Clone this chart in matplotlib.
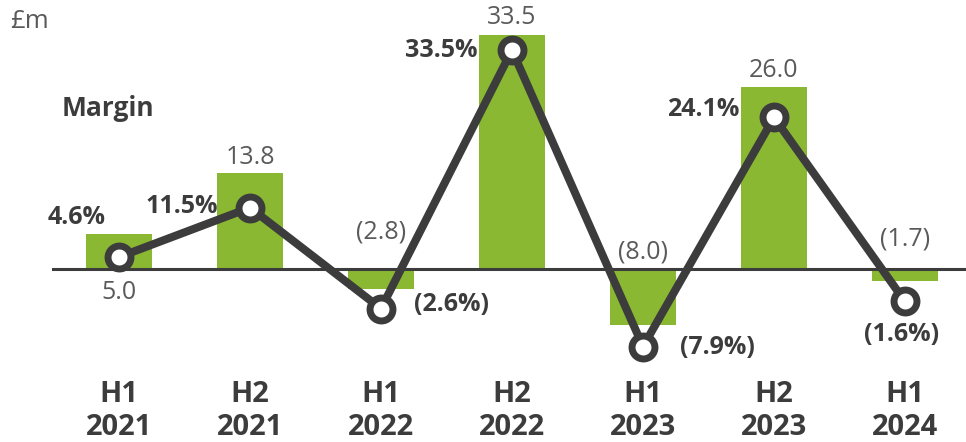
import matplotlib
matplotlib.use('Agg')
import matplotlib.pyplot as plt
import matplotlib.transforms as mtransforms

plt.rcParams['font.family'] = ['Open Sans', 'DejaVu Sans']

# half-year results, £m, and margin %
periods = ['H1\n2021', 'H2\n2021', 'H1\n2022', 'H2\n2022', 'H1\n2023', 'H2\n2023', 'H1\n2024']
profit = [5.0, 13.8, -2.8, 33.5, -8.0, 26.0, -1.7]
margin = [4.6, 11.5, -2.6, 33.5, -7.9, 24.1, -1.6]

# label placement (pixel offsets)
profit_dy = [-58, 15, 37, 18, 17, 17, 30]
margin_off = [(-13, 40, 'right'), (-32, 1, 'right'), (33, 4, 'left'), (-35, 0, 'right'),
              (37, -1, 'left'), (-35, 8, 'right'), (-3, -33, 'center')]

green = '#8ab833'
dark = '#3c3c3c'
grey = '#5a5a5a'


def fmt(v, pct=False):
    s = f'{abs(v):.1f}' + ('%' if pct else '')
    return f'({s})' if v < 0 else s


W, H = 966, 442
fig = plt.figure(figsize=(W / 100, H / 100), dpi=100)
ax = fig.add_axes([0, 0, 1, 1])
ax2 = ax.twinx()

x = list(range(len(periods)))
ax.bar(x, profit, 0.5, color=green, zorder=1)
ax.axhline(0, xmin=53 / W, xmax=1, color=dark, lw=2.2, zorder=2)

ax2.plot(x, margin, color=dark, lw=5.8, marker='o', ms=16.5, mfc='white',
         mec=dark, mew=5, solid_joinstyle='miter', zorder=3)

# pixel mapping: bars zero at y=269 (6.985 px/unit), margin zero at y=290 (7.16 px/unit)
ax.set_xlim(-119 / 131, (W - 119) / 131)
ax.set_ylim(-(H - 269) / 6.985, 269 / 6.985)
ax2.set_ylim(-(H - 290) / 7.16, 290 / 7.16)

for a in (ax, ax2):
    a.axis('off')
ax2.set_zorder(ax.get_zorder() + 1)

for i, v in enumerate(profit):
    ax.annotate(fmt(v), (i, max(v, 0)), xytext=(0, profit_dy[i]), textcoords='offset pixels',
                ha='center', va='center', fontsize=18, color=grey)

for i, v in enumerate(margin):
    dx, dy, ha = margin_off[i]
    ax2.annotate(fmt(v, True), (i, v), xytext=(dx, dy), textcoords='offset pixels',
                 ha=ha, va='center', fontsize=18, fontweight='bold', color=dark)

trans = mtransforms.blended_transform_factory(ax.transData, ax.transAxes)
for i, p in enumerate(periods):
    ax.text(i, 1 - 411 / H, p, transform=trans, ha='center', va='center',
            fontsize=21, fontweight='bold', color=dark, linespacing=1.2)

fig.text(10 / W, 1 - 21 / H, '£m', ha='left', va='center', fontsize=18.5, color=grey)
fig.text(62 / W, 1 - 108 / H, 'Margin', ha='left', va='center', fontsize=19,
         fontweight='bold', color=dark)

fig.savefig('out.png', dpi=100)
